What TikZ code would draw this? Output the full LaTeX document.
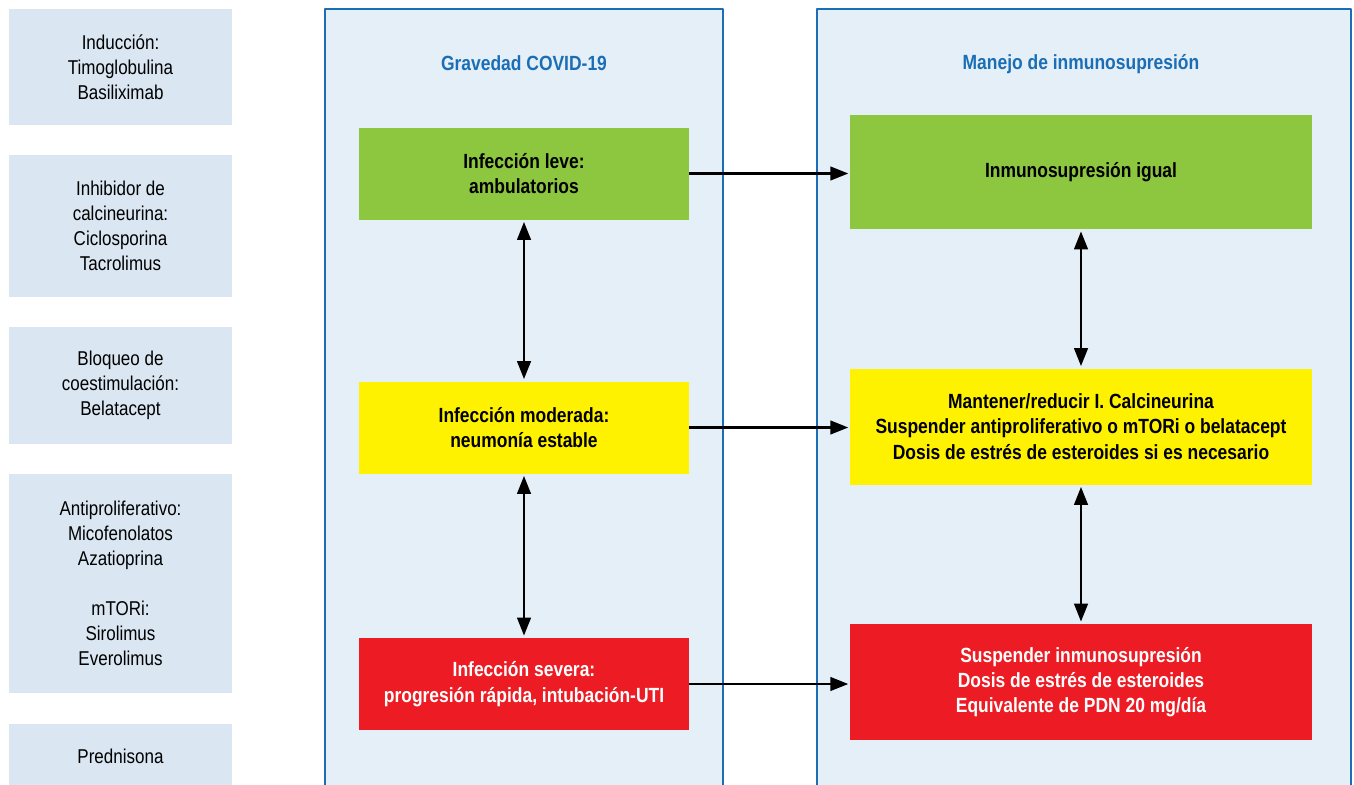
\documentclass[tikz,border=0pt]{standalone}
\usepackage{fontspec}
\setmainfont{Liberation Sans}[FakeStretch=0.85]
\usepackage{tikz}
\usetikzlibrary{arrows.meta}
\definecolor{panelblue}{RGB}{27,110,181}
\definecolor{panelfill}{RGB}{228,239,247}
\definecolor{drugfill}{RGB}{218,230,242}
\definecolor{leve}{RGB}{141,198,63}
\definecolor{moderada}{RGB}{255,242,0}
\definecolor{severa}{RGB}{237,28,36}

\begin{document}
\begin{tikzpicture}[x=0.75pt,y=-0.75pt,line join=round,
  >={Triangle[length=13.5pt,width=10pt]},
  drug/.style={fill=drugfill,minimum width=167.25pt,align=center,inner sep=0pt,font=\fontsize{15}{18.75}\selectfont},
  sev/.style={minimum width=247.5pt,minimum height=69pt,align=center,inner sep=0pt,font=\fontsize{15.4}{19}\selectfont\bfseries},
  act/.style={minimum width=346.5pt,minimum height=87pt,align=center,inner sep=0pt,font=\fontsize{15.4}{19}\selectfont\bfseries},
  head/.style={text=panelblue,font=\fontsize{15.4}{18}\selectfont\bfseries},
  link/.style={line width=2.2pt,->,shorten >=1pt},
  dlink/.style={line width=2.2pt,<->,shorten >=1.5pt,shorten <=1.5pt}]
  \useasboundingbox (0,0) rectangle (1354,785);
  % two panels, open at the bottom
  \fill[panelfill] (325,9) rectangle (723,785); \draw[panelblue,line width=1.5pt] (325,790)--(325,9)--(723,9)--(723,790);
  \fill[panelfill] (817,9) rectangle (1351,785); \draw[panelblue,line width=1.5pt] (817,790)--(817,9)--(1351,9)--(1351,790);
  \node[head] (hgrav) at (524,63) {Gravedad COVID-19};
  \node[head] (hmanejo) at (1081,64.5) {Manejo de inmunosupresión};
  % drug classes
  \node[drug,minimum height=87pt] (induc) at (120.5,67) {Inducción:\\Timoglobulina\\Basiliximab};
  \node[drug,minimum height=106.5pt] (inhib) at (120.5,226) {Inhibidor de\\calcineurina:\\Ciclosporina\\Tacrolimus};
  \node[drug,minimum height=87.75pt] (bloq) at (120.5,385.5) {Bloqueo de\\coestimulación:\\Belatacept};
  \node[drug,minimum height=164.25pt] (antip) at (120.5,583.5) {Antiproliferativo:\\Micofenolatos\\Azatioprina\\[18.75pt]mTORi:\\Sirolimus\\Everolimus};
  \node[drug,minimum height=48pt] (pred) at (120.5,756) {Prednisona};
  % severity
  \node[sev,fill=leve] (leve) at (524,173.5) {Infección leve:\\ambulatorios};
  \node[sev,fill=moderada] (mod) at (524,427.5) {Infección moderada:\\neumonía estable};
  \node[sev,fill=severa,text=white] (sevr) at (524,684) {Infección severa:\\progresión rápida, intubación-UTI};
  % management
  \node[act,fill=leve,minimum height=85.5pt] (igual) at (1081,172) {Inmunosupresión igual};
  \node[act,fill=moderada] (reducir) at (1081,426.5) {Mantener/reducir I. Calcineurina\\Suspender antiproliferativo o mTORi o belatacept\\Dosis de estrés de esteroides si es necesario};
  \node[act,fill=severa,text=white] (suspender) at (1081,682) {Suspender inmunosupresión\\Dosis de estrés de esteroides\\Equivalente de PDN 20 mg/día};
  \draw[link] (leve.east) -- (leve.east -| igual.west);
  \draw[link] (mod.east) -- (mod.east -| reducir.west);
  \draw[link] (sevr.east) -- (sevr.east -| suspender.west);
  \draw[dlink] (leve) -- (mod); \draw[dlink] (mod) -- (sevr);
  \draw[dlink] (igual) -- (reducir); \draw[dlink] (reducir) -- (suspender);
\end{tikzpicture}
\end{document}
